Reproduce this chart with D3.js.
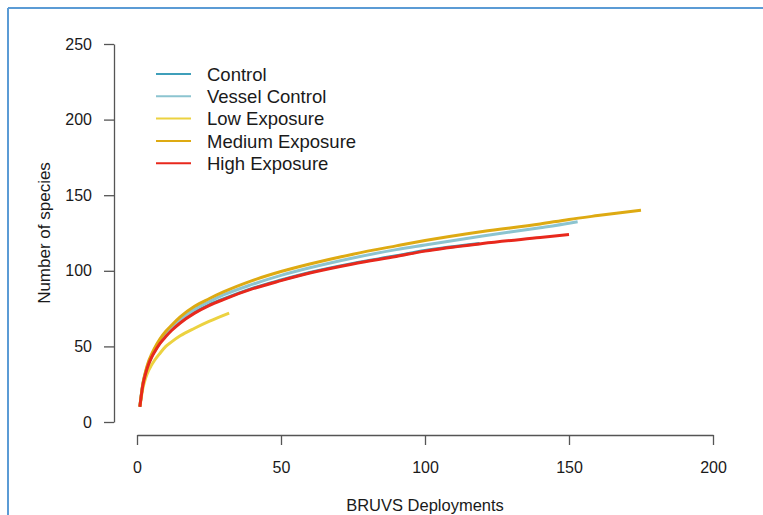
<!DOCTYPE html>
<html>
<head>
<meta charset="utf-8">
<script src="https://cdn.jsdelivr.net/npm/d3@7"></script>
<style>
  html, body { margin: 0; padding: 0; background: #fff; }
  svg { display: block; font-family: "Liberation Sans", Arial, Helvetica, sans-serif; }
</style>
</head>
<body>
<svg id="chart" width="763" height="515"></svg>
<script>
// Species accumulation curves (number of species vs. BRUVS deployments)
const seriesNames = ["Control", "Vessel Control", "Low Exposure", "Medium Exposure", "High Exposure"];
const seriesColors = ["#3f9fba", "#8cc4d0", "#ecd240", "#deaa12", "#e8281c"];

const controlX = [1, 2, 3, 4, 5, 6, 8, 10, 12, 15, 20, 25, 30, 40, 50, 60, 75, 90, 100, 119];
const controlY = [10, 24.5, 32.5, 38.5, 43, 46.5, 52.5, 57, 61, 66, 72.5, 77.5, 81.4, 88.4, 93.9, 98.9, 104.9, 109.9, 113.4, 118.1];

const vesselX = [1, 2, 3, 4, 5, 6, 8, 10, 12, 15, 20, 25, 30, 40, 50, 60, 75, 90, 100, 120, 140, 150, 153];
const vesselY = [10.5, 24.5, 33, 39, 43.5, 47.5, 53.5, 58.5, 62.5, 67.5, 74.5, 79.5, 84, 91, 97, 102, 108.5, 114, 117, 123, 128.5, 131.5, 132.5];

const lowX = [1, 2, 3, 4, 5, 6, 8, 10, 12, 15, 20, 25, 32];
const lowY = [10, 22, 29, 34, 37.5, 40.5, 45.5, 50, 53, 57, 62, 66.5, 72];

const mediumX = [1, 2, 3, 4, 5, 6, 8, 10, 12, 15, 20, 25, 30, 40, 50, 60, 75, 90, 100, 120, 140, 150, 160, 175];
const mediumY = [10.5, 25, 33.5, 40, 44.5, 48.5, 55, 60, 64, 69.5, 76.5, 81.5, 86, 93.5, 99.5, 104.5, 111, 116.5, 120, 126, 131, 134, 136.5, 140];

const highX = [1, 2, 3, 4, 5, 6, 8, 10, 12, 15, 20, 25, 30, 40, 50, 60, 75, 90, 100, 120, 140, 150];
const highY = [10, 24, 32, 38, 42.5, 46, 52, 56.5, 60.5, 65.5, 72, 77, 81, 88, 93.5, 98.5, 104.5, 109.5, 113, 118, 122, 124];

const xTicks = [0, 50, 100, 150, 200];
const yTicks = [0, 50, 100, 150, 200, 250];

const xTitle = "BRUVS Deployments";
const yTitle = "Number of species";

const svg = d3.select("#chart");

// Outer frame: top and left rules
svg.append("line").attr("x1", 8).attr("y1", 8).attr("x2", 763).attr("y2", 8)
  .attr("stroke", "#5b9bd5").attr("stroke-width", 2);
svg.append("line").attr("x1", 8).attr("y1", 8).attr("x2", 8).attr("y2", 515)
  .attr("stroke", "#5b9bd5").attr("stroke-width", 2);

const x = d3.scaleLinear().domain([0, 200]).range([137, 713]);
const y = d3.scaleLinear().domain([0, 250]).range([422, 44]);

// Axes drawn detached from the plot region
const xAxis = svg.append("g")
  .attr("transform", "translate(0,435)")
  .call(d3.axisBottom(x).tickValues(xTicks).tickFormat(d3.format("d"))
    .tickSize(10).tickSizeOuter(0).tickPadding(17));
const yAxis = svg.append("g")
  .attr("transform", "translate(114,0)")
  .call(d3.axisLeft(y).tickValues(yTicks).tickFormat(d3.format("d"))
    .tickSize(10).tickSizeOuter(0).tickPadding(12));

[xAxis, yAxis].forEach(g => {
  g.select(".domain").attr("stroke", "#555").attr("stroke-width", 1.3);
  g.selectAll(".tick line").attr("stroke", "#555").attr("stroke-width", 1.3);
  g.selectAll(".tick text").attr("fill", "#1a1a1a").style("font-size", "16px")
    .style("font-family", "'Liberation Sans', Arial, sans-serif");
});

svg.append("text")
  .attr("x", 425).attr("y", 511)
  .attr("text-anchor", "middle")
  .style("font-size", "16.5px").attr("fill", "#1a1a1a")
  .text(xTitle);

svg.append("text")
  .attr("transform", "translate(50,233) rotate(-90)")
  .attr("text-anchor", "middle")
  .style("font-size", "17px").attr("fill", "#1a1a1a")
  .text(yTitle);

// Curves, drawn in legend order so High Exposure sits on top
const series = [
  { xs: controlX, ys: controlY },
  { xs: vesselX, ys: vesselY },
  { xs: lowX, ys: lowY },
  { xs: mediumX, ys: mediumY },
  { xs: highX, ys: highY }
];

const line = d3.line()
  .x(d => x(d[0]))
  .y(d => y(d[1]))
  .curve(d3.curveMonotoneX);

series.forEach((s, i) => {
  const pts = s.xs.map((v, j) => [v, s.ys[j]]);
  svg.append("path")
    .datum(pts)
    .attr("fill", "none")
    .attr("stroke", seriesColors[i])
    .attr("stroke-width", 3)
    .attr("stroke-linecap", "butt")
    .attr("d", line);
});

// Legend
const legend = svg.append("g");
seriesNames.forEach((name, i) => {
  const cy = 74 + i * 22.3;
  legend.append("line")
    .attr("x1", 156).attr("x2", 191).attr("y1", cy).attr("y2", cy)
    .attr("stroke", seriesColors[i]).attr("stroke-width", 2);
  legend.append("text")
    .attr("x", 207).attr("y", cy).attr("dy", "0.36em")
    .style("font-size", "18.5px").attr("fill", "#1a1a1a")
    .text(name);
});
</script>
</body>
</html>
